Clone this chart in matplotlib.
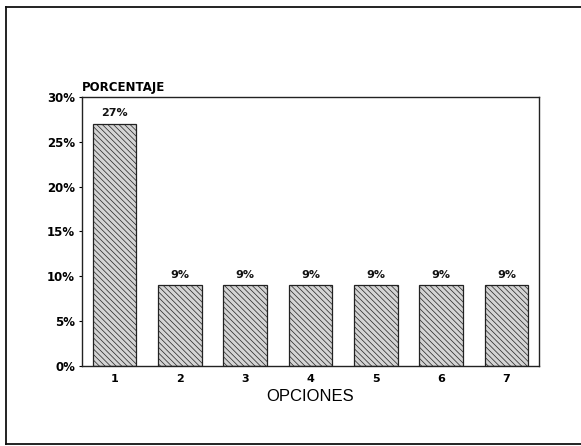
import matplotlib
matplotlib.use("Agg")
import matplotlib.pyplot as plt
import matplotlib.lines
import numpy as np

plt.rcParams['font.family'] = ['DejaVu Sans']
plt.rcParams['hatch.color'] = '#3a3a3a'
plt.rcParams['hatch.linewidth'] = 0.5

opciones = ['1', '2', '3', '4', '5', '6', '7']
porcentaje = [27, 9, 9, 9, 9, 9, 9]
yticks = [0, 5, 10, 15, 20, 25, 30]

fig = plt.figure(figsize=(5.81, 4.46), dpi=100)
ax = fig.add_axes([0.141, 0.179, 0.787, 0.604])

x = np.arange(1, len(opciones) + 1)
bars = ax.bar(x, porcentaje, width=0.67, color='#d4d4d4', edgecolor='#222222',
              linewidth=0.9, hatch='\\\\\\\\\\\\')

for xi, v in zip(x, porcentaje):
    ax.text(xi, v + 0.6, f'{v}%', ha='center', va='bottom', fontsize=8,
            fontweight='bold', color='#111111')

ax.set_xlim(0.5, 7.5)
ax.set_ylim(0, 30)
ax.set_xticks(x)
ax.set_xticklabels(opciones, fontsize=8, fontweight='bold')
ax.set_yticks(yticks)
ax.set_yticklabels([f'{t}%' for t in yticks], fontsize=8.5, fontweight='bold')
ax.tick_params(axis='x', length=0, pad=6)
ax.tick_params(axis='y', length=2, width=0.8, pad=3)
for s in ax.spines.values():
    s.set_linewidth(1.0)
    s.set_color('#222222')

ax.set_xlabel('OPCIONES', fontsize=12, labelpad=3, family='Liberation Sans')
ax.text(0.0, 1.012, 'PORCENTAJE', transform=ax.transAxes, ha='left', va='bottom',
        fontsize=8.5, fontweight='bold')

# outer frame
fw, fh = 581.0, 446.0
frame_kw = dict(transform=fig.transFigure, color='#111111', linewidth=1.3)
fig.add_artist(matplotlib.lines.Line2D([6 / fw, 1.0], [1 - 7 / fh, 1 - 7 / fh], **frame_kw))
fig.add_artist(matplotlib.lines.Line2D([6 / fw, 6 / fw], [1 - 7 / fh, 1 - 444 / fh], **frame_kw))
fig.add_artist(matplotlib.lines.Line2D([6 / fw, 1.0], [1 - 444 / fh, 1 - 444 / fh], **frame_kw))

fig.savefig('out.png', dpi=100)
